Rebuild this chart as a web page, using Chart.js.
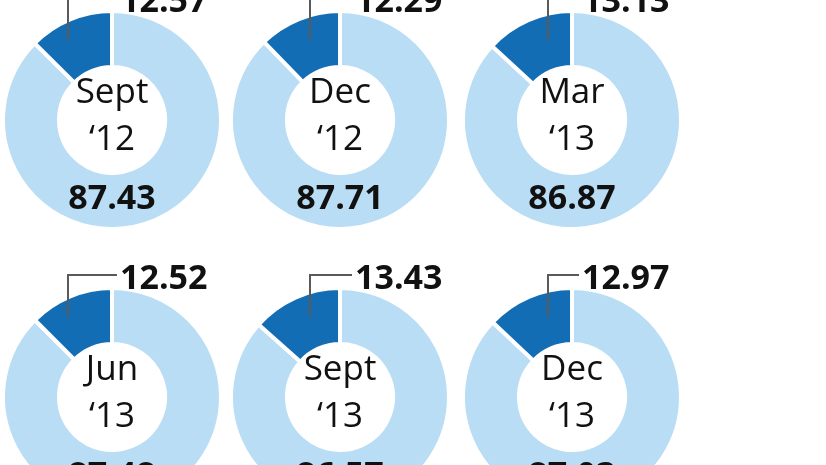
<!DOCTYPE html>
<html>
<head>
<meta charset="utf-8">
<script src="https://cdn.jsdelivr.net/npm/chart.js@4.4.1/dist/chart.umd.min.js"></script>
<style>
  html, body { margin:0; padding:0; background:#ffffff; }
  body { width:826px; height:465px; overflow:hidden; position:relative; }
  .cell { position:absolute; width:240px; height:310px; }
</style>
</head>
<body>
<script>
// ---- data ----
const periods = ["Sept", "Dec", "Mar", "Jun", "Sept", "Dec"];
const years = ["\u201812", "\u201812", "\u201813", "\u201813", "\u201813", "\u201813"];
const smallShare = [12.57, 12.29, 13.13, 12.52, 13.43, 12.97];
const largeShare = [87.43, 87.71, 86.87, 87.48, 86.57, 87.03];

// ---- layout (not data) ----
const colCenters = [112, 340, 572];
const rowCenters = [120, 397];
const leaderX = [-44, -30, -24];
const labelX = [8, 15, 10];
const R = 107, RIN = 55, BW = 4;
const lightColor = "#b9ddf4";
const darkColor = "#136db5";
const textColor = "#111111";
const FONT = "'Open Sans', 'Noto Sans', sans-serif";

const labelPlugin = {
  id: 'donutLabels',
  afterDraw(chart) {
    const idx = chart.options.plugins.donutLabels.idx;
    const col = idx % 3;
    const arc = chart.getDatasetMeta(0).data[0];
    const cx = arc.x, cy = arc.y;
    const ctx = chart.ctx;
    ctx.save();
    // leader line
    ctx.strokeStyle = "#5a5a5a";
    ctx.lineWidth = 2;
    ctx.beginPath();
    const lx = cx + leaderX[col];
    ctx.moveTo(lx, cy - 80);
    ctx.lineTo(lx, cy - 122);
    ctx.lineTo(cx + labelX[col] - 3, cy - 122);
    ctx.stroke();
    // small share label
    ctx.fillStyle = textColor;
    ctx.textBaseline = 'alphabetic';
    ctx.textAlign = 'left';
    ctx.font = "bold 34px " + FONT;
    ctx.fillText(smallShare[idx].toFixed(2), cx + labelX[col], cy - 108);
    // large share label
    ctx.textAlign = 'center';
    ctx.fillText(largeShare[idx].toFixed(2), cx, cy + 89);
    // period label
    ctx.font = "35px " + FONT;
    ctx.fillText(periods[idx], cx, cy - 17);
    ctx.fillText(years[idx], cx, cy + 30);
    ctx.restore();
  }
};

for (let i = 0; i < 6; i++) {
  const col = i % 3, row = Math.floor(i / 3);
  const cx = colCenters[col], cy = rowCenters[row];
  const div = document.createElement('div');
  div.className = 'cell';
  div.style.left = (cx - 120) + 'px';
  div.style.top = (cy - 155) + 'px';
  const canvas = document.createElement('canvas');
  div.appendChild(canvas);
  document.body.appendChild(div);
  const outer = R + BW / 2;
  const inner = RIN - BW / 2;
  new Chart(canvas, {
    type: 'doughnut',
    data: {
      labels: ['large', 'small'],
      datasets: [{
        data: [largeShare[i], smallShare[i]],
        backgroundColor: [lightColor, darkColor],
        borderColor: '#ffffff',
        borderWidth: BW
      }]
    },
    options: {
      responsive: true,
      maintainAspectRatio: false,
      animation: false,
      events: [],
      radius: outer,
      cutout: (inner / outer * 100).toFixed(2) + '%',
      layout: { padding: 0 },
      plugins: {
        legend: { display: false },
        tooltip: { enabled: false },
        donutLabels: { idx: i }
      }
    },
    plugins: [labelPlugin]
  });
}
</script>
</body>
</html>
